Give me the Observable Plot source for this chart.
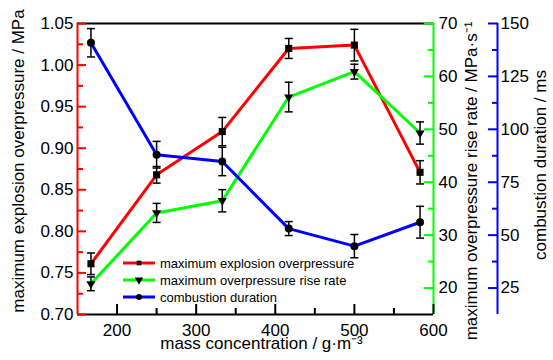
<!DOCTYPE html>
<html>
<head>
<meta charset="utf-8">
<script src="https://cdn.jsdelivr.net/npm/d3@7"></script>
<script src="https://cdn.jsdelivr.net/npm/@observablehq/plot@0.6"></script>
<style>
  body { margin: 0; background: #fff; }
  #chart { position: relative; width: 553px; height: 360px; }
  #legend { position: absolute; left: 0; top: 0; pointer-events: none; }
</style>
</head>
<body>
<div id="chart"></div>
<script>
// Measurements at each dust mass concentration (g/m³)
const concentration = [167, 250, 333, 417, 500, 583];
const overpressure = [0.761, 0.868, 0.920, 1.020, 1.024, 0.871];      // MPa
const overpressureErr = [0.013, 0.010, 0.017, 0.012, 0.019, 0.014];
const riseRate = [20.8, 34.2, 36.5, 56.1, 60.9, 49.3];                // MPa·s⁻¹
const riseRateErr = [1.3, 1.8, 2.1, 2.8, 1.4, 2.1];
const duration = [140.9, 88.0, 84.8, 53.1, 44.8, 56.1];               // ms
const durationErr = [6.7, 6.3, 6.7, 3.3, 5.5, 7.5];

const seriesNames = ["maximum explosion overpressure", "maximum overpressure rise rate", "combustion duration"];

// Axis ticks
const xTicks = [200, 300, 400, 500, 600];
const xMinorTicks = [250, 350, 450, 550];
const pressureTicks = [0.70, 0.75, 0.80, 0.85, 0.90, 0.95, 1.00, 1.05];
const pressureMinorTicks = [0.725, 0.775, 0.825, 0.875, 0.925, 0.975, 1.025];
const rateTicks = [20, 30, 40, 50, 60, 70];
const rateMinorTicks = [25, 35, 45, 55, 65];
const durationTicks = [25, 50, 75, 100, 125, 150];
const durationMinorTicks = [37.5, 62.5, 87.5, 112.5, 137.5];

const xDomain = [150, 600];
const pressureDomain = [0.70, 1.05];
const rateDomain = [15, 70];
const durationDomain = [12.5, 150];

const RED = "#ff0000", GREEN = "#00ff00", BLUE = "#0000ff", BLACK = "#000000";

// The two right-hand quantities share the plot's y scale through linear maps
const linear = (from, to) => v => to[0] + (v - from[0]) / (from[1] - from[0]) * (to[1] - to[0]);
const rateToP = linear(rateDomain, pressureDomain);
const pToRate = linear(pressureDomain, rateDomain);
const durToP = linear(durationDomain, pressureDomain);
const pToDur = linear(pressureDomain, durationDomain);

const rows = concentration.map((c, i) => ({
  c,
  p: overpressure[i], pLo: overpressure[i] - overpressureErr[i], pHi: overpressure[i] + overpressureErr[i],
  r: rateToP(riseRate[i]), rLo: rateToP(riseRate[i] - riseRateErr[i]), rHi: rateToP(riseRate[i] + riseRateErr[i]),
  d: durToP(duration[i]), dLo: durToP(duration[i] - durationErr[i]), dHi: durToP(duration[i] + durationErr[i])
}));

// Horizontal cap for error bars
const capSymbol = {
  draw(context, size) {
    const w = Math.sqrt(size / Math.PI);
    context.moveTo(-w, 0);
    context.lineTo(w, 0);
  }
};

function errorBars(lo, hi) {
  return [
    Plot.ruleX(rows, {x: "c", y1: lo, y2: hi, stroke: BLACK, strokeWidth: 1.5}),
    Plot.dot(rows, {x: "c", y: lo, symbol: capSymbol, r: 4, stroke: BLACK, strokeWidth: 1.5, fill: "none"}),
    Plot.dot(rows, {x: "c", y: hi, symbol: capSymbol, r: 4, stroke: BLACK, strokeWidth: 1.5, fill: "none"})
  ];
}

const GAP = 64; // distance between the two right-hand axes

const title = {rotate: -90, textAnchor: "middle", lineAnchor: "middle", fontSize: 17, fill: BLACK};

const plot = Plot.plot({
  width: 553,
  height: 360,
  marginLeft: 77,
  marginRight: 120,
  marginTop: 23,
  marginBottom: 46,
  style: {fontFamily: "'Liberation Sans', Arial, sans-serif", fontSize: "17px", background: "#fff", color: "#000", overflow: "visible"},
  x: {domain: xDomain, axis: null},
  y: {domain: pressureDomain, axis: null},
  marks: [
    // frame
    Plot.ruleY([pressureDomain[1]], {stroke: BLACK, strokeWidth: 2}),
    Plot.ruleY([pressureDomain[0]], {stroke: BLACK, strokeWidth: 2}),
    Plot.ruleX([xDomain[0]], {stroke: RED, strokeWidth: 2}),
    Plot.ruleX([xDomain[1]], {stroke: GREEN, strokeWidth: 2}),
    Plot.ruleX([xDomain[1]], {stroke: BLUE, strokeWidth: 2, dx: GAP}),

    // x axis (ticks point into the plot)
    Plot.axisX(xTicks, {anchor: "bottom", tickSize: 10, dy: -10, tickPadding: 9, stroke: BLACK, strokeWidth: 2, fill: BLACK, label: null, fontSize: 17}),
    Plot.axisX(xMinorTicks, {anchor: "bottom", tickSize: 6, dy: -6, stroke: BLACK, strokeWidth: 2, tickFormat: () => "", label: null}),

    // left axis: overpressure
    Plot.axisY(pressureTicks, {anchor: "left", tickSize: 9, dx: 9, tickPadding: 4, stroke: RED, strokeWidth: 2, fill: BLACK, tickFormat: d3.format(".2f"), label: null, fontSize: 17}),
    Plot.axisY(pressureMinorTicks, {anchor: "left", tickSize: 6, dx: 6, stroke: RED, strokeWidth: 2, tickFormat: () => "", label: null}),

    // right axis: rise rate
    Plot.axisY(rateTicks.map(rateToP), {anchor: "right", tickSize: 10, dx: -10, tickPadding: 5, stroke: GREEN, strokeWidth: 2, fill: BLACK, tickFormat: d => Math.round(pToRate(d)), label: null, fontSize: 17}),
    Plot.axisY(rateMinorTicks.map(rateToP), {anchor: "right", tickSize: 6, dx: -6, stroke: GREEN, strokeWidth: 2, tickFormat: () => "", label: null}),

    // outer right axis: combustion duration
    Plot.axisY(durationTicks.map(durToP), {anchor: "right", tickSize: 10, dx: GAP - 10, tickPadding: 3, stroke: BLUE, strokeWidth: 2, fill: BLACK, tickFormat: d => Math.round(pToDur(d)), label: null, fontSize: 17}),
    Plot.axisY(durationMinorTicks.map(durToP), {anchor: "right", tickSize: 6, dx: GAP - 6, stroke: BLUE, strokeWidth: 2, tickFormat: () => "", label: null}),

    // axis titles
    Plot.text(["maximum explosion overpressure / MPa"], {...title, frameAnchor: "left", dx: -59, dy: -8}),
    Plot.text(["maximum overpressure rise rate / MPa·s⁻¹"], {...title, frameAnchor: "right", dx: 38, dy: 12}),
    Plot.text(["combustion duration / ms"], {...title, frameAnchor: "right", dx: 107, dy: -4}),
    Plot.text(["mass concentration / g·m⁻³"], {frameAnchor: "bottom", textAnchor: "middle", lineAnchor: "middle", dx: 6, dy: 29, fontSize: 17, fill: BLACK}),

    // series lines
    Plot.line(rows, {x: "c", y: "p", stroke: RED, strokeWidth: 3}),
    Plot.line(rows, {x: "c", y: "r", stroke: GREEN, strokeWidth: 3}),
    Plot.line(rows, {x: "c", y: "d", stroke: BLUE, strokeWidth: 3}),

    // error bars
    ...errorBars("pLo", "pHi"),
    ...errorBars("rLo", "rHi"),
    ...errorBars("dLo", "dHi"),

    // markers
    Plot.dot(rows, {x: "c", y: "p", symbol: "square", r: 4, fill: BLACK, stroke: "none"}),
    Plot.dot(rows, {x: "c", y: "r", symbol: "triangle", rotate: 180, r: 3.4, fill: BLACK, stroke: "none"}),
    Plot.dot(rows, {x: "c", y: "d", symbol: "circle", r: 4, fill: BLACK, stroke: "none"})
  ]
});

const chart = document.getElementById("chart");
chart.appendChild(plot);

// Legend inside the plot area, lower left
const legendColors = [RED, GREEN, BLUE];
const legendSymbols = [d3.symbolSquare, d3.symbolTriangle, d3.symbolCircle];
const legendSizes = [22, 30, 28];
const legend = d3.select(chart).append("svg")
  .attr("id", "legend")
  .attr("width", 553)
  .attr("height", 360);
const item = legend.selectAll("g")
  .data(seriesNames)
  .join("g")
  .attr("transform", (d, i) => `translate(123, ${263 + i * 17})`);
item.append("line")
  .attr("x1", 0).attr("x2", 32).attr("y1", 0).attr("y2", 0)
  .attr("stroke", (d, i) => legendColors[i])
  .attr("stroke-width", 3);
item.append("path")
  .attr("transform", (d, i) => `translate(16,0)${i === 1 ? " rotate(180)" : ""}`)
  .attr("d", (d, i) => d3.symbol(legendSymbols[i], legendSizes[i])())
  .attr("fill", BLACK);
item.append("text")
  .attr("x", 37)
  .attr("y", 0)
  .attr("dy", "0.35em")
  .attr("font-family", "'Liberation Sans', Arial, sans-serif")
  .attr("font-size", 13)
  .attr("fill", BLACK)
  .text(d => d);
</script>
</body>
</html>
